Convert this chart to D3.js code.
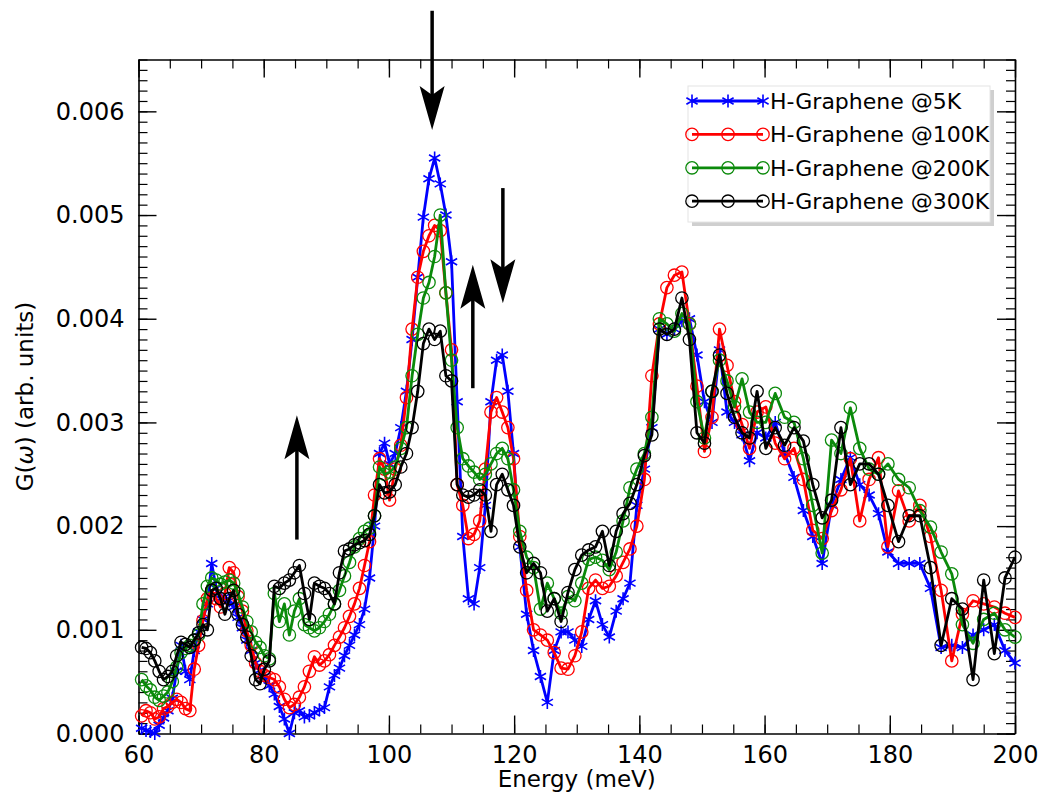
<!DOCTYPE html>
<html>
<head>
<meta charset="utf-8">
<script src="https://cdn.jsdelivr.net/npm/d3@7"></script>
<style>
  body { margin: 0; background: #fff; }
  svg { display: block; }
</style>
</head>
<body>
<svg id="chart" width="1040" height="797"></svg>
<script>
// ---------------- DATA ----------------
const energy = [
  60.5,61.2,61.9,62.6,63.3,64.0,64.7,65.4,66.1,66.8,67.5,68.2,68.9,69.6,70.3,71.0,71.7,72.4,73.1,73.8,74.5,75.2,75.9,76.6,77.3,78.0,78.7,79.4,
  80.1,80.9,81.7,82.5,83.3,84.1,84.9,85.7,86.5,87.3,88.1,88.9,89.7,90.5,91.3,92.1,92.9,93.7,94.5,95.3,96.1,96.9,97.7,98.5,99.3,
  100.1,101.0,101.9,102.8,103.7,104.6,105.5,106.4,107.3,108.2,109.1,110.0,110.9,111.8,112.7,113.6,114.5,115.4,116.3,117.2,118.1,119.0,119.9,
  120.9,122.0,123.1,124.2,125.3,126.4,127.5,128.6,129.7,130.8,131.9,133.0,134.1,135.2,136.3,137.4,138.5,139.6,
  140.8,142.0,143.2,144.4,145.6,146.8,148.0,149.2,150.4,151.6,152.8,154.0,155.2,156.4,157.6,158.8,
  160.2,161.7,163.2,164.7,166.2,167.7,169.2,170.7,172.2,173.7,175.2,176.7,178.2,179.7,
  181.4,183.1,184.8,186.5,188.2,189.9,191.6,193.3,195.0,196.7,198.4,200.0
];

const g5K = [
  0.00005,0.00003,0.00002,0.00000,0.00008,0.00015,0.00022,0.00034,0.00060,0.00085,0.00060,0.00052,0.00080,0.00098,0.00110,0.00125,0.00164,0.00140,0.00130,0.00132,0.00128,0.00122,0.00112,0.00102,0.00090,0.00080,0.00068,0.00061,
  0.00055,0.00046,0.00038,0.00026,0.00014,0.00000,0.00020,0.00022,0.00016,0.00017,0.00020,0.00023,0.00025,0.00045,0.00056,0.00063,0.00075,0.00085,0.00095,0.00105,0.00120,0.00150,0.00200,0.00270,0.00280,
  0.00260,0.00270,0.00295,0.00330,0.00380,0.00440,0.00498,0.00535,0.00555,0.00530,0.00500,0.00455,0.00320,0.00190,0.00130,0.00125,0.00160,0.00220,0.00320,0.00360,0.00365,0.00330,0.00270,
  0.00180,0.00115,0.00080,0.00055,0.00030,0.00080,0.00098,0.00098,0.00090,0.00084,0.00110,0.00128,0.00105,0.00093,0.00118,0.00130,0.00145,0.00220,
  0.00255,0.00295,0.00390,0.00385,0.00390,0.00398,0.00400,0.00365,0.00320,0.00300,0.00370,0.00310,0.00300,0.00288,0.00263,0.00290,
  0.00285,0.00300,0.00270,0.00247,0.00215,0.00190,0.00164,0.00220,0.00245,0.00266,0.00240,0.00230,0.00212,0.00175,
  0.00164,0.00164,0.00164,0.00140,0.00083,0.00085,0.00083,0.00095,0.00100,0.00105,0.00080,0.00068
];

const g100K = [
  0.00017,0.00022,0.00020,0.00014,0.00016,0.00024,0.00026,0.00030,0.00033,0.00030,0.00024,0.00022,0.00062,0.00085,0.00109,0.00130,0.00138,0.00130,0.00122,0.00135,0.00160,0.00155,0.00132,0.00118,0.00099,0.00085,0.00068,0.00060,
  0.00056,0.00054,0.00052,0.00045,0.00033,0.00025,0.00028,0.00035,0.00045,0.00060,0.00074,0.00066,0.00070,0.00076,0.00085,0.00093,0.00102,0.00113,0.00125,0.00140,0.00162,0.00185,0.00230,0.00265,0.00255,
  0.00225,0.00255,0.00278,0.00324,0.00390,0.00440,0.00465,0.00480,0.00490,0.00485,0.00425,0.00370,0.00240,0.00220,0.00188,0.00192,0.00205,0.00255,0.00310,0.00324,0.00310,0.00295,0.00265,
  0.00190,0.00138,0.00100,0.00095,0.00090,0.00078,0.00063,0.00062,0.00075,0.00098,0.00140,0.00148,0.00140,0.00142,0.00152,0.00165,0.00178,0.00200,
  0.00245,0.00345,0.00395,0.00430,0.00442,0.00445,0.00395,0.00335,0.00272,0.00305,0.00390,0.00355,0.00320,0.00298,0.00275,0.00310,
  0.00315,0.00280,0.00265,0.00275,0.00245,0.00196,0.00188,0.00215,0.00235,0.00265,0.00205,0.00245,0.00266,0.00180,
  0.00234,0.00205,0.00220,0.00190,0.00138,0.00070,0.00115,0.00128,0.00125,0.00122,0.00116,0.00112
];

const g200K = [
  0.00052,0.00046,0.00042,0.00035,0.00032,0.00036,0.00040,0.00050,0.00064,0.00078,0.00082,0.00085,0.00090,0.00095,0.00125,0.00142,0.00150,0.00148,0.00144,0.00146,0.00148,0.00145,0.00135,0.00122,0.00108,0.00098,0.00088,0.00083,
  0.00075,0.00072,0.00135,0.00108,0.00125,0.00095,0.00118,0.00130,0.00105,0.00102,0.00099,0.00102,0.00108,0.00115,0.00125,0.00138,0.00152,0.00165,0.00180,0.00188,0.00195,0.00198,0.00210,0.00257,0.00250,
  0.00252,0.00257,0.00275,0.00295,0.00345,0.00385,0.00420,0.00435,0.00460,0.00500,0.00425,0.00360,0.00295,0.00265,0.00258,0.00252,0.00245,0.00250,0.00260,0.00270,0.00275,0.00265,0.00235,
  0.00195,0.00170,0.00160,0.00120,0.00145,0.00130,0.00116,0.00132,0.00128,0.00145,0.00168,0.00170,0.00167,0.00158,0.00175,0.00205,0.00237,0.00255,
  0.00270,0.00305,0.00400,0.00395,0.00388,0.00405,0.00395,0.00320,0.00285,0.00330,0.00360,0.00340,0.00315,0.00342,0.00310,0.00300,
  0.00300,0.00328,0.00305,0.00300,0.00265,0.00220,0.00174,0.00283,0.00270,0.00314,0.00275,0.00255,0.00250,0.00260,
  0.00245,0.00237,0.00215,0.00199,0.00175,0.00154,0.00105,0.00087,0.00110,0.00116,0.00100,0.00093
];

const g300K = [
  0.00083,0.00082,0.00078,0.00070,0.00060,0.00052,0.00055,0.00060,0.00075,0.00088,0.00086,0.00083,0.00090,0.00097,0.00105,0.00100,0.00138,0.00140,0.00130,0.00115,0.00130,0.00138,0.00115,0.00105,0.00093,0.00075,0.00052,0.00048,
  0.00062,0.00070,0.00142,0.00140,0.00145,0.00148,0.00155,0.00162,0.00135,0.00110,0.00145,0.00142,0.00140,0.00135,0.00125,0.00155,0.00176,0.00178,0.00182,0.00184,0.00186,0.00192,0.00210,0.00240,0.00232,
  0.00233,0.00240,0.00257,0.00270,0.00295,0.00330,0.00376,0.00390,0.00380,0.00388,0.00345,0.00340,0.00240,0.00230,0.00228,0.00230,0.00235,0.00230,0.00195,0.00240,0.00250,0.00235,0.00220,
  0.00180,0.00155,0.00164,0.00155,0.00118,0.00130,0.00108,0.00136,0.00158,0.00172,0.00177,0.00180,0.00195,0.00162,0.00195,0.00212,0.00222,0.00240,
  0.00268,0.00288,0.00390,0.00385,0.00390,0.00420,0.00380,0.00290,0.00280,0.00330,0.00365,0.00328,0.00305,0.00290,0.00285,0.00330,
  0.00275,0.00295,0.00278,0.00295,0.00282,0.00240,0.00208,0.00225,0.00295,0.00240,0.00260,0.00260,0.00250,0.00220,
  0.00185,0.00210,0.00210,0.00160,0.00085,0.00130,0.00120,0.00052,0.00148,0.00077,0.00150,0.00170
];

const seriesNames = ["H-Graphene @5K", "H-Graphene @100K", "H-Graphene @200K", "H-Graphene @300K"];
const seriesValues = [g5K, g100K, g200K, g300K];

const xTickLabels = [60, 80, 100, 120, 140, 160, 180, 200];
const yTickLabels = [0.000, 0.001, 0.002, 0.003, 0.004, 0.005, 0.006];

// annotation arrows (energy, start value, tip value)
const arrowE    = [106.9, 85.3, 113.4, 118.2];
const arrowFrom = [0.00697, 0.00187, 0.00333, 0.00526];
const arrowTo   = [0.00582, 0.00307, 0.00452, 0.00415];

// ---------------- STYLE ----------------
const colors = ["#0000ff", "#ff0000", "#0b8a0b", "#000000"];
const markers = ["star", "circle", "circle", "circle"];
const FONT = '"DejaVu Sans", "Liberation Sans", sans-serif';

const svg = d3.select("#chart");
svg.append("rect").attr("width", 1040).attr("height", 797).attr("fill", "#fff");

const x = d3.scaleLinear().domain([60, 200]).range([138.5, 1015]);
const y = d3.scaleLinear().domain([0, 0.0065]).range([733.5, 59.5]);

const xMinor = d3.range(60, 200.1, 5);
const yMinor = d3.range(0, 66).map(i => i * 0.0001);

function styleAxis(g) {
  g.select(".domain").attr("stroke", "#000").attr("stroke-width", 1.6);
  g.selectAll(".tick line").attr("stroke", "#000").attr("stroke-width", 1.4);
  g.selectAll("text").attr("font-family", FONT).attr("font-size", 24).attr("fill", "#000");
}
function noDomain(g) { g.select(".domain").remove(); g.selectAll(".tick line").attr("stroke", "#000").attr("stroke-width", 1.2); }

// bottom
svg.append("g").attr("transform", `translate(0,${y(0)})`)
  .call(d3.axisBottom(x).tickValues(xMinor).tickSize(-9).tickSizeOuter(0).tickFormat(""))
  .call(noDomain);
svg.append("g").attr("transform", `translate(0,${y(0)})`)
  .call(d3.axisBottom(x).tickValues(xTickLabels).tickSize(-18).tickSizeOuter(0).tickPadding(12).tickFormat(d3.format("d")))
  .call(styleAxis);
// top
svg.append("g").attr("transform", `translate(0,${y(0.0065)})`)
  .call(d3.axisTop(x).tickValues(xMinor).tickSize(-9).tickSizeOuter(0).tickFormat(""))
  .call(noDomain);
svg.append("g").attr("transform", `translate(0,${y(0.0065)})`)
  .call(d3.axisTop(x).tickValues(xTickLabels).tickSize(-18).tickSizeOuter(0).tickFormat(""))
  .call(styleAxis);
// left
svg.append("g").attr("transform", `translate(${x(60)},0)`)
  .call(d3.axisLeft(y).tickValues(yMinor).tickSize(-9).tickSizeOuter(0).tickFormat(""))
  .call(noDomain);
svg.append("g").attr("transform", `translate(${x(60)},0)`)
  .call(d3.axisLeft(y).tickValues(yTickLabels).tickSize(-18).tickSizeOuter(0).tickPadding(14).tickFormat(d3.format(".3f")))
  .call(styleAxis);
// right
svg.append("g").attr("transform", `translate(${x(200)},0)`)
  .call(d3.axisRight(y).tickValues(yMinor).tickSize(-9).tickSizeOuter(0).tickFormat(""))
  .call(noDomain);
svg.append("g").attr("transform", `translate(${x(200)},0)`)
  .call(d3.axisRight(y).tickValues(yTickLabels).tickSize(-18).tickSizeOuter(0).tickFormat(""))
  .call(styleAxis);

// titles
svg.append("text").attr("x", (x(60) + x(200)) / 2).attr("y", 787)
  .attr("text-anchor", "middle").attr("font-family", FONT).attr("font-size", 23)
  .text("Energy (meV)");
const yt = svg.append("text").attr("transform", `translate(33,${(y(0) + y(0.0065)) / 2}) rotate(-90)`)
  .attr("text-anchor", "middle").attr("font-family", FONT).attr("font-size", 23);
yt.append("tspan").text("G(");
yt.append("tspan").attr("font-style", "italic").text("ω");
yt.append("tspan").text(") (arb. units)");

// markers
const starPath = "M0,-6.5L0,6.5M-5.6,-3.25L5.6,3.25M-5.6,3.25L5.6,-3.25";
function drawMarker(g, px, py, type, color) {
  if (type === "star") {
    g.append("path").attr("d", starPath).attr("transform", `translate(${px},${py})`)
      .attr("stroke", color).attr("stroke-width", 1.6).attr("fill", "none");
  } else {
    g.append("circle").attr("cx", px).attr("cy", py).attr("r", 6.2)
      .attr("stroke", color).attr("stroke-width", 1.3).attr("fill", "none");
  }
}

// series
const line = d3.line().x(d => x(d[0])).y(d => y(d[1]));
seriesValues.forEach((vals, s) => {
  const pts = energy.map((e, i) => [e, vals[i]]);
  const g = svg.append("g");
  g.append("path").datum(pts).attr("d", line)
    .attr("fill", "none").attr("stroke", colors[s]).attr("stroke-width", 2.8)
    .attr("stroke-linejoin", "round");
  pts.forEach(p => drawMarker(g, x(p[0]), y(p[1]), markers[s], colors[s]));
});

// arrows
arrowE.forEach((e, i) => {
  const X = x(e), y0 = y(arrowFrom[i]), y1 = y(arrowTo[i]);
  const d = y1 > y0 ? 1 : -1;
  const L = 44, hw = 12.5, n = 9;
  svg.append("line").attr("x1", X).attr("x2", X).attr("y1", y0).attr("y2", y1 - d * (L - n - 1))
    .attr("stroke", "#000").attr("stroke-width", 3.5);
  svg.append("path")
    .attr("d", `M${X},${y1}L${X - hw},${y1 - d * L}L${X},${y1 - d * (L - n)}L${X + hw},${y1 - d * L}Z`)
    .attr("fill", "#000");
});

// legend
const lg = svg.append("g");
lg.append("rect").attr("x", 692).attr("y", 90).attr("width", 302).attr("height", 136).attr("fill", "#cfcfcf");
lg.append("rect").attr("x", 688).attr("y", 86).attr("width", 302).attr("height", 136)
  .attr("fill", "#fff").attr("stroke", "#e4e4e4").attr("stroke-width", 1);
seriesNames.forEach((name, s) => {
  const ly = 101 + s * 33.4;
  lg.append("line").attr("x1", 692).attr("x2", 763).attr("y1", ly).attr("y2", ly)
    .attr("stroke", colors[s]).attr("stroke-width", 2.8);
  [692, 728, 763].forEach(px => drawMarker(lg, px, ly, markers[s], colors[s]));
  lg.append("text").attr("x", 770).attr("y", ly + 8).attr("font-family", FONT)
    .attr("font-size", 22).attr("fill", "#000").text(name);
});
</script>
</body>
</html>
